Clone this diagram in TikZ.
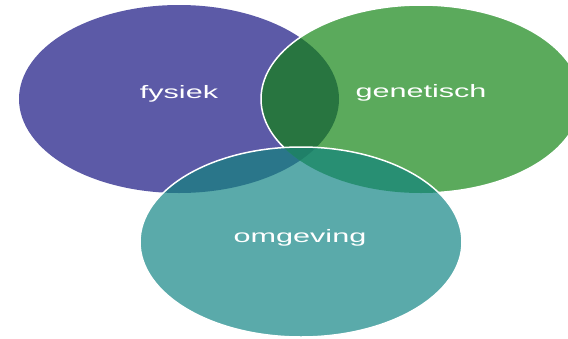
\documentclass[tikz,border=0pt]{standalone}
\usepackage{fontspec}
\setmainfont{Liberation Sans}
\usepackage[dvipsnames]{xcolor}

\definecolor{paars}{HTML}{5C5AA7}
\definecolor{groen}{HTML}{5BAA5C}
\definecolor{blauwgroen}{HTML}{5AAAAA}
\definecolor{paarsgroen}{HTML}{287540}
\definecolor{paarsblauw}{HTML}{2A768A}
\definecolor{groenblauw}{HTML}{288F73}
\definecolor{midden}{HTML}{1F8068}

\begin{document}
\begin{tikzpicture}[x=1pt,y=-1pt,thick,label node/.style={text=white,font=\fontsize{18}{20}\selectfont,xscale=1.7,anchor=base},rand/.style={draw=white,line width=1.5pt}]

                \useasboundingbox (0,0) rectangle (568,338);

                % de drie ellipsen
                \fill[paars] (179,99) ellipse [x radius=160, y radius=94];
                \fill[groen] (421,99) ellipse [x radius=160, y radius=94];
                \begin{scope}
                \clip (179,99) ellipse [x radius=160, y radius=94];
                \fill[paarsgroen] (421,99) ellipse [x radius=160, y radius=94];
                \end{scope}
                \draw[rand] (421,99) ellipse [x radius=160, y radius=94];

                \fill[blauwgroen] (301,242) ellipse [x radius=161, y radius=95];
                \begin{scope}
                \clip (301,242) ellipse [x radius=161, y radius=95];
                \fill[paarsblauw] (179,99) ellipse [x radius=160, y radius=94];
                \fill[groenblauw] (421,99) ellipse [x radius=160, y radius=94];
                \clip (179,99) ellipse [x radius=160, y radius=94];
                \fill[midden] (421,99) ellipse [x radius=160, y radius=94];
                \end{scope}
                \draw[rand] (301,242) ellipse [x radius=161, y radius=95];

                % teksten
                \node[label node] (1) at (179,98) {fysiek};
                \node[label node] (2) at (421,97) {genetisch};
                \node[label node] (3) at (300,242) {omgeving};

                ;
            \end{tikzpicture}
\end{document}
